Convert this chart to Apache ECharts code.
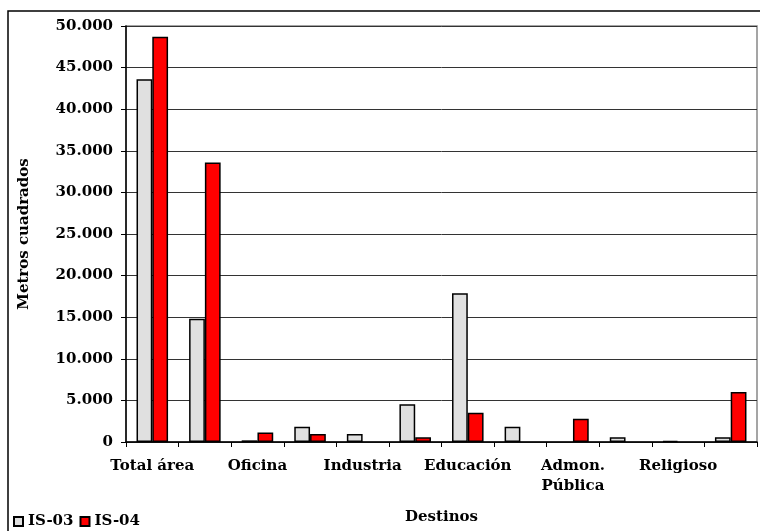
<!DOCTYPE html>
<html>
<head>
<meta charset="utf-8">
<script src="https://cdn.jsdelivr.net/npm/echarts@6/dist/echarts.min.js"></script>
<style>html,body{margin:0;padding:0;background:#fff}#c{width:760px;height:531px}</style>
</head>
<body>
<div id="c"></div>
<script>
var categories = ["Total área", "Vivienda", "Oficina", "Comercio", "Industria", "Aparcamiento", "Educación", "Sanidad", "Admon.\nPública", "Deportivo", "Religioso", "Otros"];
var is03 = [43600, 14800, 200, 1840, 960, 4530, 17870, 1840, 0, 560, 150, 560];
var is04 = [48700, 33600, 1150, 960, 0, 560, 3520, 0, 2800, 0, 0, 6000];
var yTicks = [0, 5000, 10000, 15000, 20000, 25000, 30000, 35000, 40000, 45000, 50000];
var seriesNames = ["IS-03", "IS-04"];

var FONT = "DejaVu Serif";
function fmt(v){ return String(v).replace(/\B(?=(\d{3})+(?!\d))/g, "."); }
function noZero(arr){ return arr.map(function(v){ return v === 0 ? null : v; }); }

var chart = echarts.init(document.getElementById('c'));
chart.setOption({
  animation: false,
  backgroundColor: '#fff',
  graphic: [{
    type: 'rect', shape: {x: 8, y: 11, width: 800, height: 600},
    style: {fill: 'none', stroke: '#000', lineWidth: 1.5}, z: -1
  }],
  grid: {left: 126, right: 3, top: 26, bottom: 89, containLabel: false, outerBoundsMode: 'none',
         show: true, borderColor: '#888', borderWidth: 1.5, backgroundColor: 'transparent'},
  legend: {
    left: 8, top: 509, itemWidth: 9, itemHeight: 9, itemGap: 6,
    icon: 'rect',
    data: seriesNames,
    textStyle: {fontFamily: FONT, fontWeight: 'bold', fontSize: 15, color: '#000', padding: [0,0,0,0]}
  },
  xAxis: {
    type: 'category', data: categories,
    name: 'Destinos', nameLocation: 'middle', nameGap: 68,
    nameTextStyle: {fontFamily: FONT, fontWeight: 'bold', fontSize: 15, color: '#000'},
    axisLine: {lineStyle: {color: '#000', width: 1.5}},
    axisTick: {show: true, inside: false, length: 5, interval: 0, lineStyle: {color: '#000'}},
    axisLabel: {interval: 1, margin: 14, fontFamily: FONT, fontWeight: 'bold', fontSize: 15, color: '#000', lineHeight: 20, verticalAlign: 'top'},
    splitLine: {show: false}
  },
  yAxis: {
    type: 'value', min: 0, max: 50000, interval: 5000,
    name: 'Metros cuadrados', nameLocation: 'middle', nameGap: 94, nameRotate: 90,
    nameTextStyle: {fontFamily: FONT, fontWeight: 'bold', fontSize: 15, color: '#000'},
    axisLine: {show: true, lineStyle: {color: '#000', width: 1.5}},
    axisTick: {show: true, length: 5, lineStyle: {color: '#000'}},
    axisLabel: {margin: 13, fontFamily: FONT, fontWeight: 'bold', fontSize: 15, color: '#000',
      formatter: function(v){ return yTicks.indexOf(v) >= 0 ? fmt(v) : ''; }},
    splitLine: {show: true, lineStyle: {color: '#333', width: 1}}
  },
  series: [
    {name: seriesNames[0], type: 'bar', data: noZero(is03), barGap: '0%', barCategoryGap: '40%',
     itemStyle: {color: '#e0e0e0', borderColor: '#000', borderWidth: 1.5}},
    {name: seriesNames[1], type: 'bar', data: noZero(is04), barGap: '0%', barCategoryGap: '40%',
     itemStyle: {color: '#ff0000', borderColor: '#000', borderWidth: 1.5}}
  ]
});
</script>
</body>
</html>
